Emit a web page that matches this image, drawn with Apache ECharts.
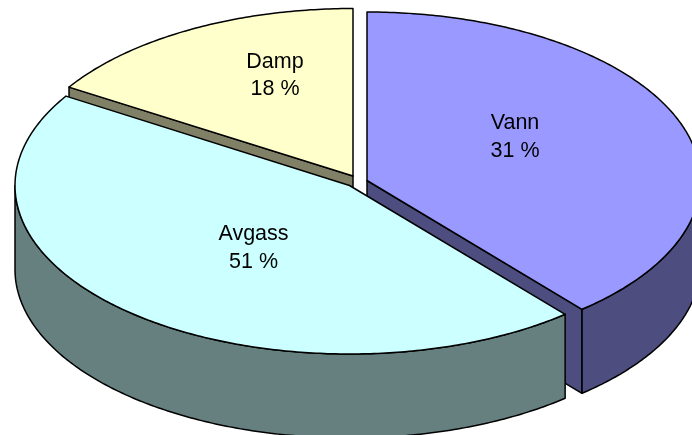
<!DOCTYPE html>
<html>
<head>
<meta charset="utf-8">
<style>html,body{margin:0;padding:0;background:#fff;overflow:hidden}#c{width:692px;height:435px}</style>
<script src="https://cdn.jsdelivr.net/npm/echarts@6/dist/echarts.min.js"></script>
</head>
<body>
<div id="c"></div>
<script>
// Slice names and the percentages printed on the chart
const categories = ['Vann', 'Avgass', 'Damp'];
const labelledPercent = [31, 51, 18];
// Share of the pie each slice actually occupies in the drawing
// (the reference's slice sizes do not follow its printed percentages)
const drawnShare = [38.85, 45.05, 16.1];

// Styling and layout, kept apart from the data
const topColors = ['#9999FF', '#CCFFFF', '#FFFFCC'];
const wallColors = ['#4D4D80', '#668080', '#808066'];
const layout = [
  { cx: 367, cy: 180.5, rx: 333.5, ry: 168.5, order: 2, lx: 515, ly: 137, wall: [90, 139.85], face: 'end' },
  { cx: 349.5, cy: 185.5, rx: 334.5, ry: 168.5, order: 3, lx: 253.5, ly: 248, wall: [139.85, 270], face: null },
  { cx: 353, cy: 176, rx: 335, ry: 167.5, order: 1, lx: 275, ly: 75.5, wall: null, face: 'start' }
];
const depth = 84;
const lineColor = '#000';
const lineWidth = 1.5;
const fontFamily = '"Liberation Sans", Arial, sans-serif';

const total = drawnShare.reduce((a, b) => a + b, 0);
function toDeg(share) { return share / total * 360; }
function pt(g, deg, dy) {
  const r = deg * Math.PI / 180;
  return [g.cx + g.rx * Math.sin(r), g.cy - g.ry * Math.cos(r) + (dy || 0)];
}
function arc(g, a0, a1, dy) {
  const n = Math.max(2, Math.ceil(Math.abs(a1 - a0) * 1.5));
  const out = [];
  for (let i = 0; i <= n; i++) out.push(pt(g, a0 + (a1 - a0) * i / n, dy));
  return out;
}
function poly(points, fill, z2) {
  return {
    type: 'polygon', z2,
    shape: { points },
    style: { fill, stroke: lineColor, lineWidth, lineJoin: 'round' }
  };
}
function renderItem(params, api) {
  const i = params.dataIndex;
  const g = layout[i];
  let startShare = 0;
  for (let k = 0; k < i; k++) startShare += drawnShare[k];
  const a0 = toDeg(startShare);
  const a1 = a0 + toDeg(api.value(0));
  const base = g.order * 10;
  const children = [];
  if (g.face) {
    const a = g.face === 'end' ? a1 : a0;
    const p = pt(g, a), apex = [g.cx, g.cy];
    children.push(poly([apex, p, [p[0], p[1] + depth], [apex[0], apex[1] + depth]], wallColors[i], base));
  }
  if (g.wall) {
    const lo = Math.max(g.wall[0], a0), hi = Math.min(g.wall[1], a1);
    const top = arc(g, lo, hi, 0), bottom = arc(g, hi, lo, depth);
    children.push(poly(top.concat(bottom), wallColors[i], base + 1));
  }
  children.push(poly([[g.cx, g.cy]].concat(arc(g, a0, a1, 0)), topColors[i], base + 2));
  children.push({
    type: 'text', z2: 100,
    style: {
      x: g.lx, y: g.ly,
      text: categories[i] + '\n' + labelledPercent[i] + ' %',
      fill: '#000',
      font: '21.5px ' + fontFamily,
      lineHeight: 27.5,
      align: 'center',
      verticalAlign: 'middle'
    }
  });
  return { type: 'group', children };
}

const chart = echarts.init(document.getElementById('c'), null, { renderer: 'canvas' });
chart.setOption({
  animation: false,
  backgroundColor: '#fff',
  series: [{
    type: 'custom',
    coordinateSystem: 'none',
    silent: true,
    clip: false,
    renderItem,
    data: drawnShare.map((v, i) => ({ name: categories[i], value: [v] }))
  }]
});
</script>
</body>
</html>
